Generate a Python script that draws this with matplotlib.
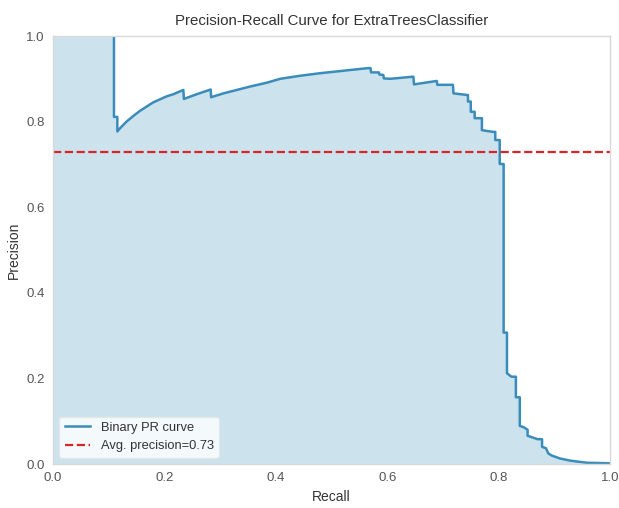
import numpy as np
import matplotlib
matplotlib.use("Agg")
import matplotlib.pyplot as plt

plt.rcParams['font.family'] = ['Liberation Sans Narrow', 'Liberation Sans', 'DejaVu Sans']

# outline of the PR curve (vertices, vertical drops as repeated x)
recall = [0.0, 0.1095, 0.1095, 0.1155, 0.1155, 0.120, 0.132, 0.144, 0.156, 0.168,
          0.180, 0.192, 0.204, 0.216, 0.234, 0.235, 0.258, 0.283, 0.284, 0.306,
          0.330, 0.354, 0.384, 0.408, 0.443, 0.479, 0.515, 0.551, 0.566, 0.570,
          0.571, 0.585, 0.586, 0.593, 0.594, 0.605, 0.647, 0.648, 0.689, 0.690,
          0.718, 0.719, 0.745, 0.745, 0.750, 0.750, 0.757, 0.757, 0.770, 0.770,
          0.790, 0.794, 0.794, 0.802, 0.802, 0.809, 0.809, 0.815, 0.815, 0.823,
          0.831, 0.831, 0.838, 0.838, 0.845, 0.852, 0.852, 0.870, 0.878, 0.878,
          0.885, 0.889, 0.895, 0.910, 0.928, 0.958, 1.0]
precision = [1.0, 1.0, 0.811, 0.811, 0.777, 0.784, 0.800, 0.813, 0.825, 0.835,
             0.845, 0.852, 0.859, 0.864, 0.874, 0.853, 0.864, 0.875, 0.857, 0.866,
             0.874, 0.882, 0.891, 0.900, 0.907, 0.913, 0.918, 0.923, 0.925, 0.925,
             0.915, 0.915, 0.910, 0.909, 0.901, 0.900, 0.905, 0.887, 0.895, 0.886,
             0.886, 0.866, 0.862, 0.847, 0.847, 0.823, 0.823, 0.808, 0.808, 0.780,
             0.776, 0.776, 0.757, 0.757, 0.701, 0.701, 0.307, 0.307, 0.212, 0.204,
             0.204, 0.156, 0.156, 0.089, 0.086, 0.080, 0.066, 0.058, 0.058, 0.040,
             0.037, 0.025, 0.020, 0.013, 0.008, 0.003, 0.0016]
avg_precision = 0.73

line_color = '#3a8cba'
fill_color = '#3a8fbd'

fig = plt.figure(figsize=(6.19, 5.08), dpi=100)
ax = fig.add_axes([0.0856, 0.0866, 0.8999, 0.8425])

ax.fill_between(recall, precision, color=fill_color, alpha=0.26, lw=0)
ax.plot(recall[1:], precision[1:], color=line_color, lw=1.8,
        label='Binary PR curve')
ax.axhline(avg_precision, color='#d62728', ls='--', lw=1.6,
           label='Avg. precision={:0.2f}'.format(avg_precision))

ax.set_xlim(0, 1)
ax.set_ylim(0, 1)
ax.set_title('Precision-Recall Curve for ExtraTreesClassifier', fontsize=10.8, pad=8, color='#333333')
ax.set_xlabel('Recall', fontsize=10, color='#333333')
ax.set_ylabel('Precision', fontsize=10, color='#333333')
ax.tick_params(labelsize=9.5, length=0, pad=6, colors='#555555')
for s in ax.spines.values():
    s.set_color('#d9d9d9')
    s.set_linewidth(1.0)

leg = ax.legend(loc='lower left', frameon=True, fontsize=9.3, borderaxespad=0.5)
leg.get_frame().set_facecolor('white')
leg.get_frame().set_edgecolor('#e6e6e6')
leg.get_frame().set_alpha(0.8)
for t in leg.get_texts():
    t.set_color('#333333')

fig.savefig('out.png', dpi=100)
